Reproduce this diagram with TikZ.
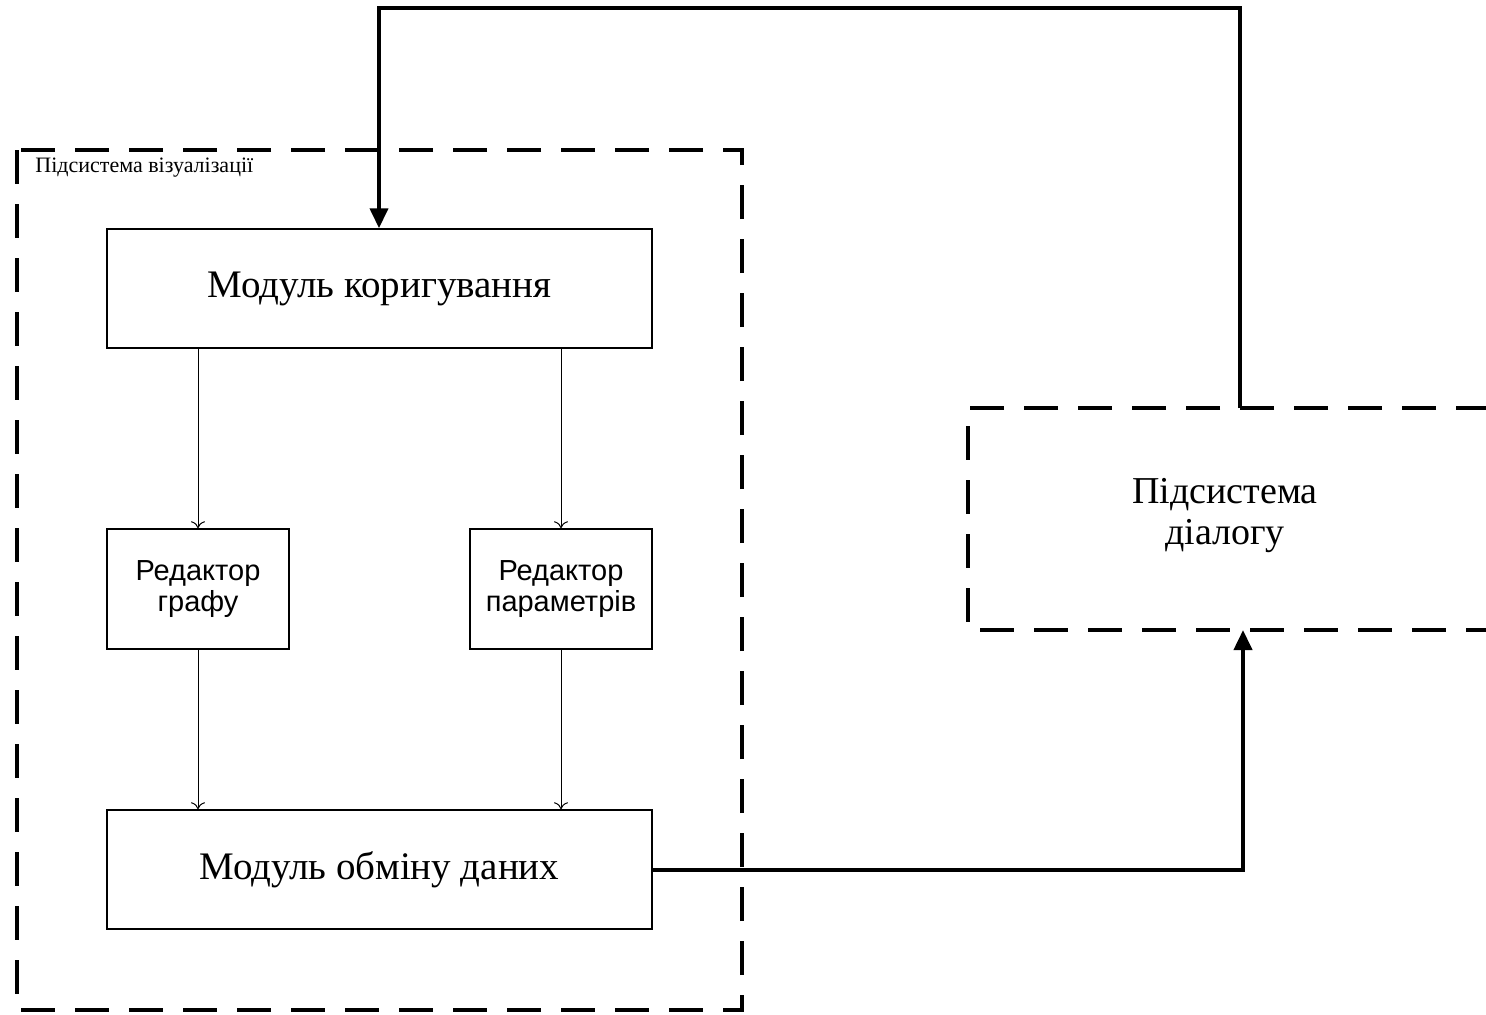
\documentclass[tikz,border=0pt]{standalone}
\usepackage{fontspec}
\setmainfont{Liberation Serif}
\newfontfamily\arialfont{Liberation Sans}
\usetikzlibrary{arrows.meta}
\begin{document}
\begin{tikzpicture}[x=0.5pt,y=-0.5pt,
  modbox/.style={draw, line width=0.75pt, inner sep=0pt, font=\fontsize{19.5}{23}\selectfont},
  edbox/.style={draw, line width=0.75pt, inner sep=0pt, align=center, font=\arialfont\fontsize{14.5}{15.5}\selectfont},
  thinarrow/.style={line width=0.5pt, -{To[length=3.5pt,width=7pt]}},
  thickarrow/.style={line width=2pt, -{Triangle[length=10pt,width=9pt]}},
  dashbox/.style={line width=2pt, dash pattern=on 17pt off 10pt}]
\useasboundingbox (0,0) rectangle (1486,1014);
% outer subsystem frame
\draw[dashbox] (17,150) rectangle (742,1010);
\node[anchor=west, inner sep=0pt, font=\fontsize{11}{13}\selectfont] (lbl) at (35,168) {Підсистема візуалізації};
% boxes
\node[modbox, minimum width=272.5pt, minimum height=59.5pt] (kor) at (379.5,288.5) {Модуль коригування};
\node[edbox, minimum width=91pt, minimum height=60pt] (graf) at (198,589) {Редактор\\графу};
\node[edbox, minimum width=91pt, minimum height=60pt] (par) at (561,589) {Редактор\\параметрів};
\node[modbox, minimum width=272.5pt, minimum height=59.5pt] (obm) at (379.5,869.5) {Модуль обміну даних};
% dialog subsystem (extends past the right edge)
\node[align=center, font=\fontsize{19}{20.5}\selectfont] (dial) at (1225,516) {Підсистема\\діалогу};
\coordinate (dtop) at (1240,408);
\coordinate (dbot) at (1243,630);
\draw[dashbox] (1490,408) -- (968,408) -- (968,630) -- (1490,630);
% thin connectors
\draw[thinarrow] (kor.south -| graf) -- (graf.north);
\draw[thinarrow] (kor.south -| par) -- (par.north);
\draw[thinarrow] (graf.south) -- (obm.north -| graf);
\draw[thinarrow] (par.south) -- (obm.north -| par);
% thick connectors
\draw[thickarrow] (dtop) -- (1240,8) -- (379,8) -- (kor.north -| 379,0);
\draw[thickarrow] (obm.east) -- (dbot |- obm.east) -- (dbot);
\end{tikzpicture}
\end{document}
